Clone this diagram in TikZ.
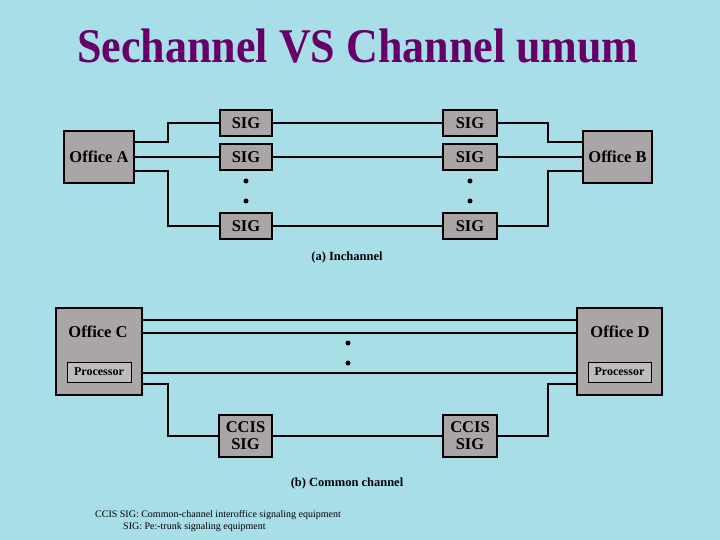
\documentclass[tikz,border=0pt]{standalone}
\usepackage{fontspec}
\setmainfont{Liberation Serif}
\definecolor{bgc}{RGB}{168,222,232}
\definecolor{boxc}{RGB}{170,166,168}
\definecolor{titlec}{RGB}{102,0,102}
\tikzset{
  box/.style={draw=black, line width=1.6pt, fill=boxc, inner sep=0pt, align=center, font=\fontsize{16.5}{17}\selectfont\bfseries},
  procbox/.style={draw=black, line width=0.9pt, fill=boxc!75!white, inner sep=0pt, font=\fontsize{12}{13}\selectfont\bfseries},
  wire/.style={draw=black, line width=1.8pt},
  dotmark/.style={circle, fill=black, inner sep=0pt, minimum size=5pt},
  caption/.style={font=\fontsize{12.5}{14}\selectfont\bfseries},
  legend/.style={anchor=west, inner sep=0pt, font=\fontsize{10}{11}\selectfont}
}
\begin{document}
\begin{tikzpicture}[x=1pt,y=-1pt]
\fill[bgc] (0,0) rectangle (720,540);
\useasboundingbox (0,0) rectangle (720,540);

\node[text=titlec, font=\fontsize{44}{50}\selectfont\bfseries, yscale=1.1] (title) at (358,46) {Sechannel VS Channel umum};

% (a) In-channel
\node[box, minimum width=70pt, minimum height=52pt] (offA) at (99,157) {Office A};
\node[box, minimum width=69pt, minimum height=52pt] (offB) at (617.5,157) {Office B};
\node[box, minimum width=52pt, minimum height=26pt] (sigL1) at (246,123) {SIG};
\node[box, minimum width=52pt, minimum height=26pt] (sigL2) at (246,157) {SIG};
\node[box, minimum width=52pt, minimum height=26pt] (sigL3) at (246,226) {SIG};
\node[box, minimum width=54pt, minimum height=26pt] (sigR1) at (470,123) {SIG};
\node[box, minimum width=54pt, minimum height=26pt] (sigR2) at (470,157) {SIG};
\node[box, minimum width=54pt, minimum height=26pt] (sigR3) at (470,226) {SIG};
\node[dotmark] (dA1) at (246,181) {};
\node[dotmark] (dA2) at (246,201) {};
\node[dotmark] (dB1) at (470,181) {};
\node[dotmark] (dB2) at (470,201) {};

\draw[wire] ([yshift=15pt]offA.east) -- ++(33,0) |- (sigL1.west);
\draw[wire] (offA.east) -- (sigL2.west);
\draw[wire] ([yshift=-14pt]offA.east) -- ++(33,0) |- (sigL3.west);
\draw[wire] (sigL1.east) -- (sigR1.west);
\draw[wire] (sigL2.east) -- (sigR2.west);
\draw[wire] (sigL3.east) -- (sigR3.west);
\draw[wire] (sigR1.east) -- ++(50,0) |- ([yshift=15pt]offB.west);
\draw[wire] (sigR2.east) -- (offB.west);
\draw[wire] (sigR3.east) -- ++(50,0) |- ([yshift=-14pt]offB.west);

\node[caption] (capA) at (347,257) {(a) Inchannel};

% (b) Common channel
\node[box, minimum width=86pt, minimum height=87pt] (offC) at (99,351.5) {};
\node[box, minimum width=85pt, minimum height=87pt] (offD) at (619.5,351.5) {};
\node[font=\fontsize{16.5}{17}\selectfont\bfseries] (labC) at (98,332) {Office C};
\node[font=\fontsize{16.5}{17}\selectfont\bfseries] (labD) at (620,332) {Office D};
\node[procbox, minimum width=64pt, minimum height=20pt] (procC) at (99,372) {Processor};
\node[procbox, minimum width=63pt, minimum height=20pt] (procD) at (619.5,372) {Processor};
\node[dotmark] (dC1) at (348,343) {};
\node[dotmark] (dC2) at (348,363) {};

\draw[wire] ([yshift=31.5pt]offC.east) -- ([yshift=31.5pt]offD.west);
\draw[wire] ([yshift=18.5pt]offC.east) -- ([yshift=18.5pt]offD.west);
\draw[wire] ([yshift=-21.5pt]offC.east) -- ([yshift=-21.5pt]offD.west);

\node[box, minimum width=53pt, minimum height=42pt] (ccisL) at (245.5,436) {CCIS\\SIG};
\node[box, minimum width=54pt, minimum height=42pt] (ccisR) at (470,436) {CCIS\\SIG};

\draw[wire] ([yshift=-32.5pt]offC.east) -- ++(25,0) |- (ccisL.west);
\draw[wire] (ccisL.east) -- (ccisR.west);
\draw[wire] (ccisR.east) -- ++(50,0) |- ([yshift=-32.5pt]offD.west);

\node[caption] (capB) at (347,483) {(b) Common channel};

\node[legend] (leg1) at (95,515) {CCIS SIG: Common-channel interoffice signaling equipment};
\node[legend] (leg2) at (123,527) {SIG: Pe:-trunk signaling equipment};
\end{tikzpicture}
\end{document}
